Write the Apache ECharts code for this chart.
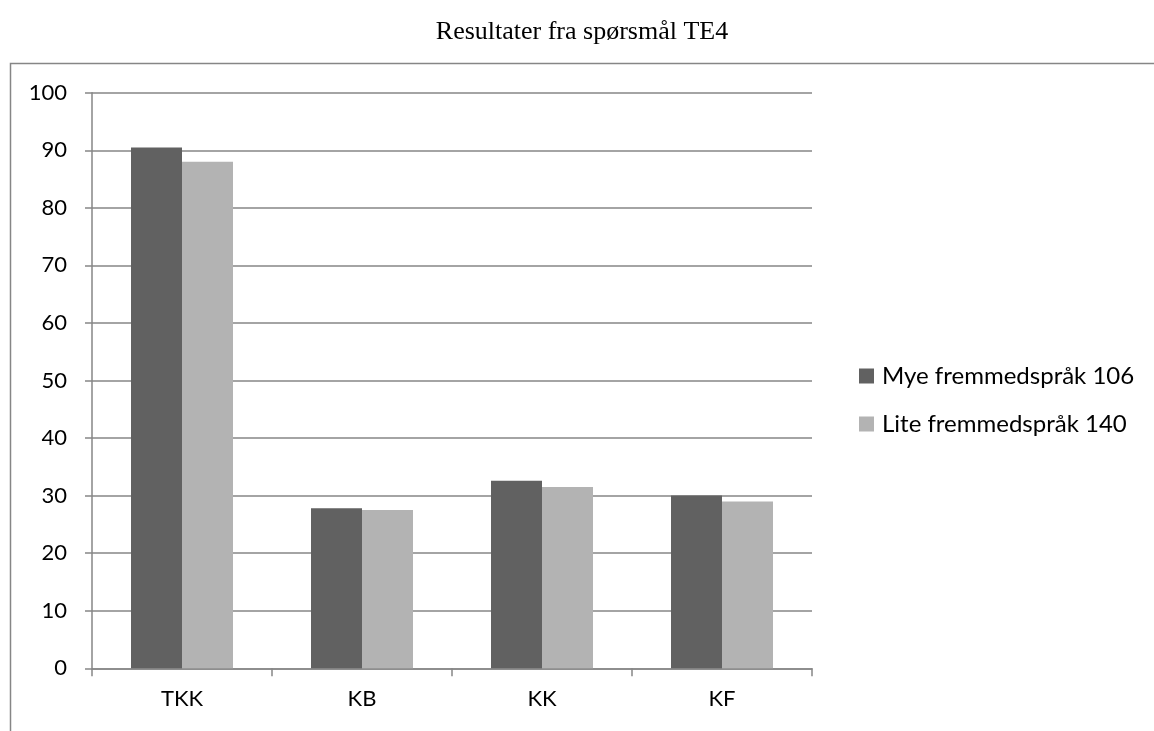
<!DOCTYPE html>
<html>
<head>
<meta charset="utf-8">
<script src="https://cdn.jsdelivr.net/npm/echarts@6/dist/echarts.min.js"></script>
<style>
  html, body { margin: 0; padding: 0; background: #fff; }
  #chart { width: 1154px; height: 731px; }
</style>
</head>
<body>
<div id="chart"></div>
<script>
// Question TE4 results, per category and language-background group
const categories = ['TKK', 'KB', 'KK', 'KF'];
const seriesNames = ['Mye fremmedspråk 106', 'Lite fremmedspråk 140'];
const myeValues = [90.5, 27.8, 32.6, 30.0];
const liteValues = [88.0, 27.5, 31.5, 29.0];
const yTicks = { min: 0, max: 100, interval: 10 };

const axisGray = '#868686';
const labelFont = 'Lato, "Open Sans", sans-serif';

const chart = echarts.init(document.getElementById('chart'), null, { renderer: 'canvas' });

chart.setOption({
  backgroundColor: '#ffffff',
  animation: false,
  title: {
    text: 'Resultater fra spørsmål TE4',
    left: 577,
    top: 14,
    textAlign: 'center',
    textStyle: {
      fontFamily: '"Liberation Serif", "DejaVu Serif", serif',
      fontWeight: 'normal',
      fontSize: 26,
      color: '#000'
    }
  },
  graphic: [{
    type: 'rect',
    shape: { x: 10.5, y: 63.5, width: 1300, height: 800 },
    style: { fill: 'none', stroke: axisGray, lineWidth: 1.5 },
    silent: true,
    z: -1
  }],
  legend: {
    orient: 'vertical',
    left: 854,
    top: 358,
    itemWidth: 15,
    itemHeight: 15,
    itemGap: 22,
    icon: 'rect',
    data: seriesNames,
    textStyle: {
      fontFamily: labelFont,
      fontSize: 24,
      lineHeight: 26,
      color: '#000',
      padding: [0, 0, 0, 3]
    }
  },
  grid: {
    left: 92,
    right: 342,
    top: 92.7,
    bottom: 62.7,
    containLabel: false
  },
  xAxis: {
    type: 'category',
    data: categories,
    axisLine: { show: true, lineStyle: { color: axisGray, width: 1.5 } },
    axisTick: { show: true, alignWithLabel: false, length: 8, lineStyle: { color: axisGray, width: 1.5 } },
    axisLabel: {
      margin: 20,
      fontFamily: labelFont,
      fontSize: 22,
      color: '#000'
    },
    splitLine: { show: false }
  },
  yAxis: {
    type: 'value',
    min: yTicks.min,
    max: yTicks.max,
    interval: yTicks.interval,
    axisLine: { show: true, lineStyle: { color: axisGray, width: 1.5 } },
    axisTick: { show: true, length: 7, lineStyle: { color: axisGray, width: 1.5 } },
    axisLabel: {
      margin: 25,
      fontFamily: labelFont,
      fontSize: 22,
      color: '#000'
    },
    splitLine: { show: true, lineStyle: { color: axisGray, width: 1.5 } }
  },
  series: [
    {
      name: seriesNames[0],
      type: 'bar',
      data: myeValues,
      barWidth: 51,
      barGap: '0%',
      itemStyle: { color: '#616161' }
    },
    {
      name: seriesNames[1],
      type: 'bar',
      data: liteValues,
      barWidth: 51,
      barGap: '0%',
      itemStyle: { color: '#b3b3b3' }
    }
  ]
});
</script>
</body>
</html>
